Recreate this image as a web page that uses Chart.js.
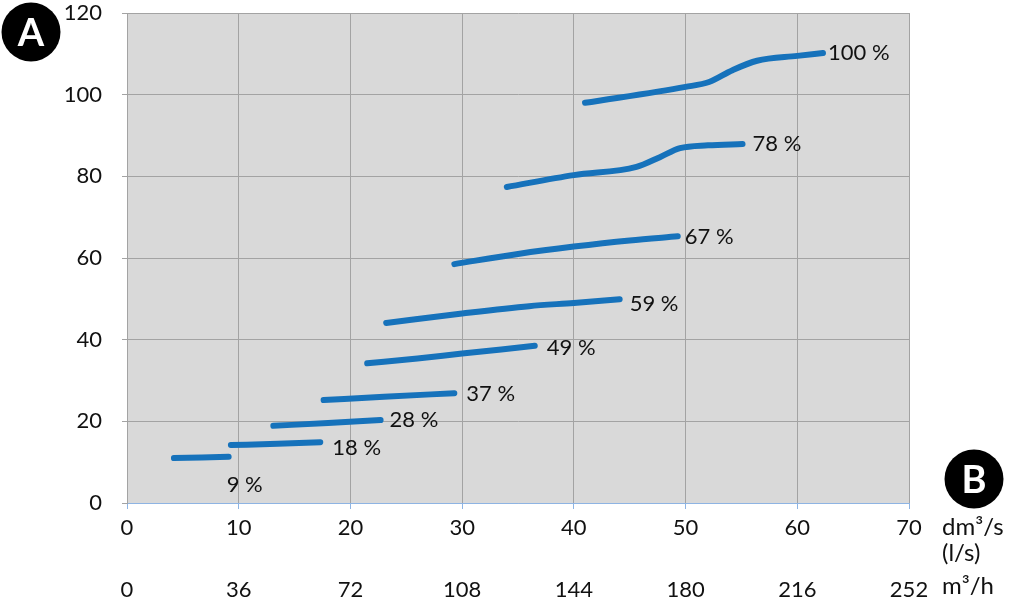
<!DOCTYPE html>
<html>
<head>
<meta charset="utf-8">
<script src="https://cdn.jsdelivr.net/npm/chart.js@4.4.1/dist/chart.umd.min.js"></script>
<style>
  html, body { margin: 0; padding: 0; background: #ffffff; }
  #wrap { width: 1021px; height: 603px; position: relative; }
</style>
</head>
<body>
<div id="wrap"><canvas id="pumpChart" width="1021" height="603"></canvas></div>
<script>
// flow in dm3/s (l/s) vs pressure, one curve per speed setting
const speedLabels = ['9 %', '18 %', '28 %', '37 %', '49 %', '59 %', '67 %', '78 %', '100 %'];

const curve9   = [[4.2, 11.0], [9.1, 11.3]];
const curve18  = [[9.3, 14.2], [13.5, 14.5], [17.3, 14.9]];
const curve28  = [[13.1, 18.9], [18.0, 19.6], [22.7, 20.3]];
const curve37  = [[17.6, 25.2], [23.0, 26.0], [29.3, 26.9]];
const curve49  = [[21.5, 34.2], [26.0, 35.4], [30.0, 36.6], [33.5, 37.6], [36.5, 38.5]];
const curve59  = [[23.2, 44.1], [30.0, 46.4], [36.0, 48.2], [40.0, 49.0], [44.1, 49.9]];
const curve67  = [[29.3, 58.5], [35.0, 61.0], [40.0, 62.8], [45.0, 64.3], [49.3, 65.3]];
const curve78  = [[34.0, 77.4], [40.0, 80.3], [45.6, 82.3], [47.7, 84.7], [49.5, 86.9], [52.0, 87.6], [55.1, 87.9]];
const curve100 = [[41.0, 98.0], [50.0, 101.9], [52.1, 103.1], [54.2, 106.0], [56.4, 108.3], [60.0, 109.5], [62.3, 110.2]];

const curves = [curve9, curve18, curve28, curve37, curve49, curve59, curve67, curve78, curve100];

// axis ticks
const yTicks = [0, 20, 40, 60, 80, 100, 120];
const flowTicks = [0, 10, 20, 30, 40, 50, 60, 70];       // dm3/s
const hourTicks = [0, 36, 72, 108, 144, 180, 216, 252];  // m3/h

// label placement relative to the curve end (styling, not data)
const labelOffsets = [[-2, 28], [12, 6], [9, 0], [12, 1], [12, 2], [10, 5], [7, 1], [10, 0], [5, 0]];

const FONT = 'Lato, "Open Sans", sans-serif';
const BLUE = '#1672bb';
const GRID = '#a3a3a3';

const plotBackground = {
    id: 'plotBackground',
    beforeDraw(chart) {
        const { ctx, chartArea: a } = chart;
        ctx.save();
        ctx.fillStyle = '#d9d9d9';
        ctx.fillRect(a.left, a.top, a.right - a.left, a.bottom - a.top);
        ctx.restore();
    }
};

const curveLabels = {
    id: 'curveLabels',
    afterDatasetsDraw(chart) {
        const ctx = chart.ctx;
        ctx.save();
        ctx.font = '22px ' + FONT;
        ctx.fillStyle = '#111';
        ctx.textBaseline = 'middle';
        ctx.textAlign = 'left';
        chart.data.datasets.forEach((ds, i) => {
            const pts = chart.getDatasetMeta(i).data;
            const last = pts[pts.length - 1];
            const off = labelOffsets[i];
            ctx.fillText(speedLabels[i], last.x + off[0], last.y + off[1]);
        });
        ctx.restore();
    }
};

const badges = {
    id: 'badges',
    afterDraw(chart) {
        const ctx = chart.ctx;
        const drawBadge = (cx, cy, letter) => {
            ctx.beginPath();
            ctx.arc(cx, cy, 29.5, 0, Math.PI * 2);
            ctx.fillStyle = '#000';
            ctx.fill();
            ctx.fillStyle = '#fff';
            ctx.font = 'bold 38px ' + FONT;
            ctx.textAlign = 'center';
            ctx.textBaseline = 'middle';
            ctx.fillText(letter, cx, cy + 2);
        };
        ctx.save();
        drawBadge(31, 32, 'A');
        drawBadge(974, 479, 'B');

        // unit labels next to the x axes
        ctx.fillStyle = '#111';
        ctx.font = '24px ' + FONT;
        ctx.textAlign = 'left';
        ctx.textBaseline = 'middle';
        ctx.fillText('dm³/s', 942, 527);
        ctx.fillText('(l/s)', 942, 553);
        ctx.fillText('m³/h', 942, 586);
        ctx.restore();
    }
};

const ctx = document.getElementById('pumpChart').getContext('2d');

new Chart(ctx, {
    type: 'line',
    data: {
        datasets: curves.map((c, i) => ({
            label: speedLabels[i],
            data: c.map(p => ({ x: p[0], y: p[1] })),
            borderColor: BLUE,
            borderWidth: 6,
            borderCapStyle: 'round',
            borderJoinStyle: 'round',
            pointRadius: 0,
            cubicInterpolationMode: 'monotone',
            fill: false
        }))
    },
    options: {
        responsive: false,
        animation: false,
        layout: { padding: { top: 13, right: 112, left: 0, bottom: 0 } },
        plugins: { legend: { display: false }, tooltip: { enabled: false } },
        scales: {
            x: {
                type: 'linear',
                position: 'bottom',
                min: 0,
                max: 70,
                afterBuildTicks(scale) { scale.ticks = flowTicks.map(v => ({ value: v })); },
                ticks: { color: '#111', font: { family: FONT, size: 22 }, padding: 6, maxRotation: 0 },
                grid: { color: GRID, lineWidth: 1, tickLength: 6, tickColor: '#8eb4e3' },
                border: { color: '#8eb4e3', width: 1 },
                afterFit(scale) { scale.height = 52; scale.paddingLeft = 0; scale.paddingRight = 0; }
            },
            x2: {
                type: 'linear',
                position: 'bottom',
                min: 0,
                max: 252,
                afterBuildTicks(scale) { scale.ticks = hourTicks.map(v => ({ value: v })); },
                ticks: { color: '#111', font: { family: FONT, size: 22 }, padding: 22, maxRotation: 0 },
                grid: { display: false, drawTicks: false },
                border: { display: false },
                afterFit(scale) { scale.height = 48; scale.paddingLeft = 0; scale.paddingRight = 0; }
            },
            y: {
                min: 0,
                max: 120,
                afterBuildTicks(scale) { scale.ticks = yTicks.map(v => ({ value: v })); },
                ticks: { color: '#111', font: { family: FONT, size: 22 }, padding: 20 },
                grid: { color: GRID, lineWidth: 1, tickLength: 5, tickColor: GRID },
                border: { color: GRID, width: 1 },
                afterFit(scale) { scale.width = 127; scale.paddingTop = 0; scale.paddingBottom = 0; }
            }
        }
    },
    plugins: [plotBackground, curveLabels, badges]
});
</script>
</body>
</html>
